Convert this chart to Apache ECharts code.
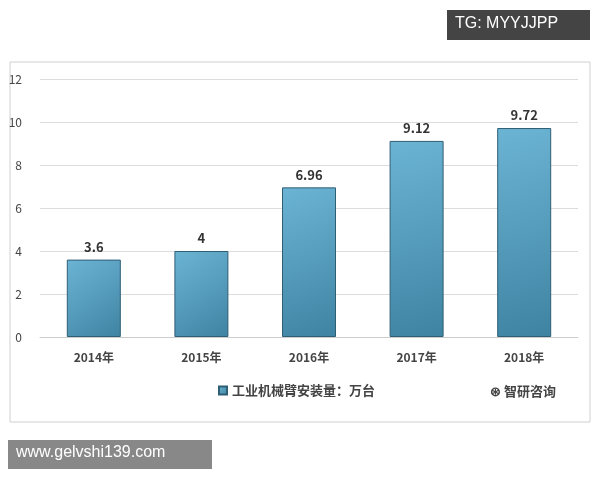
<!DOCTYPE html>
<html><head><meta charset="utf-8">
<script src="https://cdn.jsdelivr.net/npm/echarts@6/dist/echarts.min.js"></script>
<style>html,body{margin:0;background:#fff}#c{width:600px;height:480px}</style>
</head><body><div id="c"></div>
<script>
var years = ['2014年', '2015年', '2016年', '2017年', '2018年'];
var installs = [3.6, 4, 6.96, 9.12, 9.72];
var seriesName = '工业机械臂安装量：万台';

var chart = echarts.init(document.getElementById('c'));
var font = '"Noto Sans CJK SC", sans-serif';
chart.setOption({
  animation: false,
  textStyle: { fontFamily: font },
  graphic: [
    { type: 'rect', shape: { x: 10, y: 62, width: 580, height: 360 }, style: { fill: 'none', stroke: '#d0d0d0', lineWidth: 1 } },
    { type: 'rect', shape: { x: 447, y: 10, width: 143, height: 30 }, style: { fill: '#444' } },
    { type: 'text', x: 455, y: 16, style: { text: 'TG: MYYJJPP', fill: '#fff', font: '16px "Liberation Sans", sans-serif' } },
    { type: 'rect', shape: { x: 8, y: 440, width: 204, height: 29 }, style: { fill: '#888' } },
    { type: 'text', x: 16, y: 445, style: { text: 'www.gelvshi139.com', fill: '#fff', font: '16px "Liberation Sans", sans-serif' } },
    { type: 'text', x: 490, y: 385, style: { text: '⊛ 智研咨询', fill: '#444', font: 'bold 13px ' + font } }
  ],
  grid: { left: 40, right: 22, top: 79, bottom: 143 },
  legend: {
    bottom: 78, left: 213, itemWidth: 8, itemHeight: 8, icon: 'rect',
    textStyle: { fontSize: 13, fontWeight: 'bold', color: '#444' },
    data: [seriesName]
  },
  xAxis: {
    type: 'category', data: years,
    axisLine: { lineStyle: { color: '#ccc' } }, axisTick: { show: false },
    axisLabel: { color: '#444', fontWeight: 'bold', fontSize: 12, margin: 14 }
  },
  yAxis: {
    type: 'value', min: 0, max: 12, interval: 2,
    axisLine: { show: false }, axisTick: { show: false },
    axisLabel: { color: '#444', fontSize: 12, margin: 18 },
    splitLine: { lineStyle: { color: '#ddd' } }
  },
  series: [{
    name: seriesName, type: 'bar', data: installs, barWidth: 54,
    itemStyle: {
      color: new echarts.graphic.LinearGradient(0, 0, 1, 1, [
        { offset: 0, color: '#6cb4d4' }, { offset: 1, color: '#3f83a2' }
      ]),
      borderColor: '#2f5f75', borderWidth: 1
    },
    label: { show: true, position: 'top', color: '#333', fontWeight: 'bold', fontSize: 13, distance: 6 }
  }]
});
</script></body></html>
